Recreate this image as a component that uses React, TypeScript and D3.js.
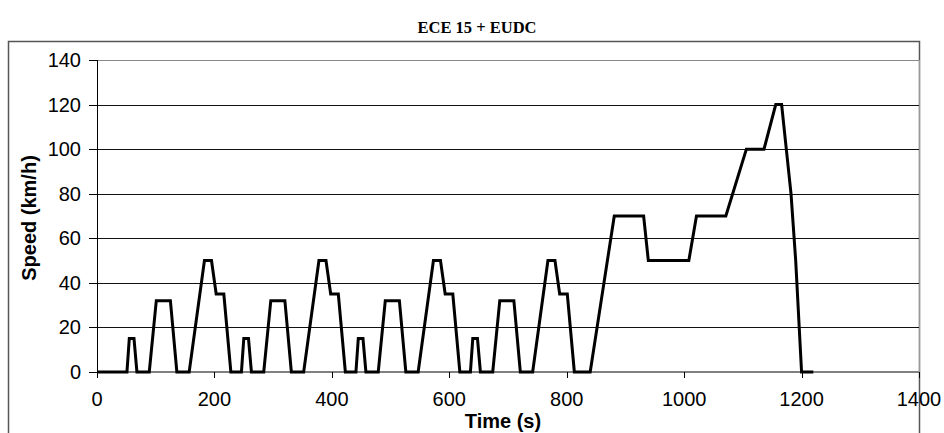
import React from 'react';
import * as d3 from 'd3';

// ECE 15 (x4, after 40 s idle) + EUDC speed trace
const timeS = [
  0, 51, 55, 63, 68, 89, 101, 125, 136, 157, 183, 195, 203, 216, 228,
  246, 250, 258, 263, 284, 296, 320, 331, 352, 378, 390, 398, 411, 423,
  441, 445, 453, 458, 479, 491, 515, 526, 547, 573, 585, 593, 606, 618,
  636, 640, 648, 653, 674, 686, 710, 721, 742, 768, 780, 788, 801, 813,
  840, 881, 931, 939, 1008, 1021, 1071, 1106, 1136, 1156, 1166, 1182, 1190, 1200, 1220,
];
const speedKmh = [
  0, 0, 15, 15, 0, 0, 32, 32, 0, 0, 50, 50, 35, 35, 0,
  0, 15, 15, 0, 0, 32, 32, 0, 0, 50, 50, 35, 35, 0,
  0, 15, 15, 0, 0, 32, 32, 0, 0, 50, 50, 35, 35, 0,
  0, 15, 15, 0, 0, 32, 32, 0, 0, 50, 50, 35, 35, 0,
  0, 70, 70, 50, 50, 70, 70, 100, 100, 120, 120, 80, 50, 0, 0,
];
const xTicks = [0, 200, 400, 600, 800, 1000, 1200, 1400];
const yTicks = [0, 20, 40, 60, 80, 100, 120, 140];

const W = 944;
const H = 433;
const margin = { top: 60, right: 25, bottom: 61, left: 97 };

export default function App() {
  const x = d3.scaleLinear().domain([0, 1400]).range([margin.left, W - margin.right]);
  const y = d3.scaleLinear().domain([0, 140]).range([H - margin.bottom, margin.top]);

  const pts: [number, number][] = timeS.map((t, i) => [t, speedKmh[i]]);
  const line = d3.line<[number, number]>()
    .x((d) => x(d[0]))
    .y((d) => y(d[1]));

  const font = '"Liberation Sans", Arial, sans-serif';
  const y0 = y(0);

  return (
    <svg width={W} height={H} style={{ position: 'absolute', left: 0, top: 0, background: '#fff' }}>
      <rect x={0} y={0} width={W} height={H} fill="#fff" />
      {/* outer frame */}
      <path d={`M8.5,${H} V41.5 H${x(1400) + 0.5} V${H}`} fill="none" stroke="#555" strokeWidth={1.5} />

      <text x={477} y={33} textAnchor="middle" fontFamily='"Liberation Serif", "Times New Roman", serif'
        fontWeight="bold" fontSize={16.5}>ECE 15 + EUDC</text>

      {/* grid */}
      {yTicks.filter((v) => v > 0).map((v) => (
        <line key={v} x1={x(0)} x2={x(1400)} y1={Math.round(y(v)) + 0.5} y2={Math.round(y(v)) + 0.5}
          stroke={v === 140 ? '#888' : '#111'} strokeWidth={1} />
      ))}
      <line x1={Math.round(x(1400)) + 0.5} x2={Math.round(x(1400)) + 0.5} y1={y(140)} y2={y0} stroke="#999" strokeWidth={1} />

      {/* axes */}
      <line x1={x(0)} x2={x(1400)} y1={y0} y2={y0} stroke="#808080" strokeWidth={2} />
      <line x1={x(0) + 0.5} x2={x(0) + 0.5} y1={y(140)} y2={y0} stroke="#000" strokeWidth={1} />
      {yTicks.map((v) => (
        <g key={v}>
          <line x1={x(0) - 8} x2={x(0)} y1={Math.round(y(v)) + 0.5} y2={Math.round(y(v)) + 0.5} stroke="#000" strokeWidth={1} />
          <text x={81} y={y(v) + 7} textAnchor="end" fontFamily={font} fontSize={20}>{v}</text>
        </g>
      ))}
      {xTicks.map((v) => (
        <g key={v}>
          <line x1={Math.round(x(v)) + 0.5} x2={Math.round(x(v)) + 0.5} y1={y0} y2={y0 + 6} stroke="#000" strokeWidth={1} />
          <text x={x(v)} y={406} textAnchor="middle" fontFamily={font} fontSize={20}>{v}</text>
        </g>
      ))}

      <text x={503} y={428} textAnchor="middle" fontFamily={font} fontWeight="bold" fontSize={20}>Time (s)</text>
      <text transform={`translate(36,218) rotate(-90)`} textAnchor="middle" fontFamily={font}
        fontWeight="bold" fontSize={20}>Speed (km/h)</text>

      <path d={line(pts) ?? ''} fill="none" stroke="#000" strokeWidth={3} strokeLinejoin="miter" />
    </svg>
  );
}
